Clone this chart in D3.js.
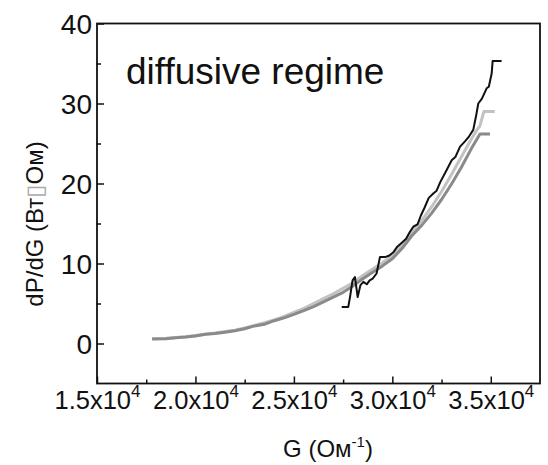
<!DOCTYPE html>
<html>
<head>
<meta charset="utf-8">
<script src="https://cdn.jsdelivr.net/npm/d3@7"></script>
<style>
  body { margin: 0; background: #fff; }
  svg { display: block; font-family: "Liberation Sans", Arial, sans-serif; }
</style>
</head>
<body>
<script>
// data: G (1/Ohm) and dP/dG
const blackG = [27430, 27760, 27850, 27980, 28100, 28240, 28380, 28530, 28700, 28850, 29000, 29200, 29370, 29630, 29850, 30050, 30250, 30480, 30700, 30880, 31065, 31280, 31450, 31640, 31850, 32080, 32250, 32440, 32700, 33015, 33200, 33440, 33700, 33900, 34110, 34250, 34365, 34550, 34790, 34900, 35045, 35095, 35550];
const blackV = [4.55, 4.55, 5.8, 7.9, 8.3, 5.8, 7.3, 7.7, 7.4, 7.9, 8.1, 8.75, 10.8, 10.8, 11.0, 11.4, 12.1, 12.6, 13.1, 13.9, 14.6, 14.9, 16.0, 17.0, 18.2, 18.75, 19.1, 20.2, 21.4, 22.9, 23.3, 24.6, 25.3, 25.9, 26.7, 28.4, 30.0, 30.6, 31.9, 32.1, 33.75, 35.3, 35.3];

const lightG = [17800, 18500, 19000, 19500, 20000, 20500, 21000, 21500, 22000, 22500, 23000, 23500, 24000, 24500, 25000, 25500, 26000, 26500, 27000, 27500, 28000, 28500, 29000, 29500, 30000, 30500, 31000, 31500, 32000, 32500, 33000, 33500, 34000, 34300, 34450, 34650, 35200];
const lightV = [0.6, 0.65, 0.75, 0.85, 1.0, 1.15, 1.3, 1.5, 1.65, 1.95, 2.25, 2.6, 2.95, 3.4, 3.9, 4.4, 5.0, 5.6, 6.2, 6.9, 7.6, 8.5, 9.3, 10.1, 11.0, 12.3, 14.0, 15.4, 17.1, 19.0, 21.1, 23.3, 25.5, 26.7, 27.2, 29.0, 29.0];

const mediumG = [17800, 18500, 19000, 19500, 20000, 20500, 21000, 21500, 22000, 22500, 23000, 23500, 24000, 24500, 25000, 25500, 26000, 26500, 27000, 27500, 28000, 28500, 29000, 29500, 30000, 30500, 31000, 31500, 32000, 32500, 33000, 33500, 34000, 34450, 34960];
const mediumV = [0.55, 0.6, 0.72, 0.8, 0.95, 1.15, 1.25, 1.4, 1.6, 1.85, 2.2, 2.4, 2.85, 3.2, 3.65, 4.1, 4.6, 5.2, 5.8, 6.4, 7.2, 8.1, 8.9, 9.7, 10.6, 11.9, 13.5, 14.8, 16.3, 18.0, 19.9, 22.0, 24.3, 26.2, 26.2];

const xTicks = [15000, 20000, 25000, 30000, 35000];
const xTickLabels = ["1.5x10", "2.0x10", "2.5x10", "3.0x10", "3.5x10"];
const xTickExp = "4";
const xMinor = [17500, 22500, 27500, 32500];
const yTicks = [0, 10, 20, 30, 40];
const yMinor = [5, 15, 25, 35];

const width = 548,
  height = 465;
const margin = { top: 23.5, right: 8, bottom: 81.5, left: 97 };

const x = d3.scaleLinear([15000, 37500], [margin.left, width - margin.right]);
const y = d3.scaleLinear([-5, 40], [height - margin.bottom, margin.top]);

const svg = d3
  .select("body")
  .append("svg")
    .attr("width", width)
    .attr("height", height);

const series = [
  { g: lightG, v: lightV, color: "#c2c2c2", w: 3 },
  { g: mediumG, v: mediumV, color: "#8a8a8a", w: 3 },
  { g: blackG, v: blackV, color: "#111", w: 2 }
];

const line = d3
  .line()
  .x(d => x(d[0]))
  .y(d => y(d[1]));

svg
  .selectAll("path.series")
  .data(series)
  .enter()
  .append("path")
    .attr("class", "series")
    .attr("fill", "none")
    .attr("stroke", d => d.color)
    .attr("stroke-width", d => d.w)
    .attr("stroke-linejoin", "round")
    .attr("d", d => line(d.g.map((g, i) => [g, d.v[i]])));

// axes, ticks pointing inward
const xAxis = svg
  .append("g")
    .attr("transform", "translate(0," + y(-5) + ")")
    .call(d3.axisBottom(x).tickValues(xTicks).tickSize(-7).tickFormat(""));
svg
  .append("g")
    .attr("transform", "translate(0," + y(-5) + ")")
    .call(d3.axisBottom(x).tickValues(xMinor).tickSize(-4).tickFormat(""));

const yAxis = svg
  .append("g")
    .attr("transform", "translate(" + x(15000) + ",0)")
    .call(d3.axisLeft(y).tickValues(yTicks).tickSize(-7).tickPadding(5));
svg
  .append("g")
    .attr("transform", "translate(" + x(15000) + ",0)")
    .call(d3.axisLeft(y).tickValues(yMinor).tickSize(-4).tickFormat(""));

svg.selectAll(".domain").remove();
svg.selectAll(".tick line").attr("stroke", "#111").attr("stroke-width", 1.5);

yAxis
  .selectAll("text")
    .attr("font-size", 28)
    .attr("font-family", "Liberation Sans, Arial, sans-serif")
    .attr("fill", "#111")
    .attr("dy", "0.36em");

// x tick labels with superscript exponent
xAxis
  .selectAll(".tick")
  .append("text")
    .attr("y", 25)
    .attr("text-anchor", "middle")
    .attr("fill", "#111")
    .attr("font-size", 25.5)
    .each(function (d, i) {
      const t = d3.select(this);
      t.append("tspan").text(xTickLabels[i]);
      t.append("tspan").attr("font-size", 17).attr("dy", -12).text(xTickExp);
    });

// frame
svg
  .append("rect")
    .attr("x", x(15000))
    .attr("y", y(40))
    .attr("width", x(37500) - x(15000))
    .attr("height", y(-5) - y(40))
    .attr("fill", "none")
    .attr("stroke", "#111")
    .attr("stroke-width", 1.8);

svg
  .append("text")
    .attr("x", 126)
    .attr("y", 83.5)
    .attr("font-size", 37)
    .attr("fill", "#111")
    .text("diffusive regime");

// axis titles
const xt = svg
  .append("text")
    .attr("x", 328)
    .attr("y", 457)
    .attr("text-anchor", "middle")
    .attr("font-size", 24)
    .attr("fill", "#111");
xt.append("tspan").text("G (Ом");
xt.append("tspan").attr("font-size", 15).attr("dy", -10).text("-1");
xt.append("tspan").attr("dy", 10).text(")");

const yt = svg
  .append("text")
    .attr("transform", "translate(43,224) rotate(-90)")
    .attr("text-anchor", "middle")
    .attr("font-size", 24)
    .attr("fill", "#111");
yt.append("tspan").text("dP/dG (Вт");
yt.append("tspan").attr("fill", "#aaa").attr("font-family", "DejaVu Sans").text("▯");
yt.append("tspan").text("Ом)");
</script>
</body>
</html>
